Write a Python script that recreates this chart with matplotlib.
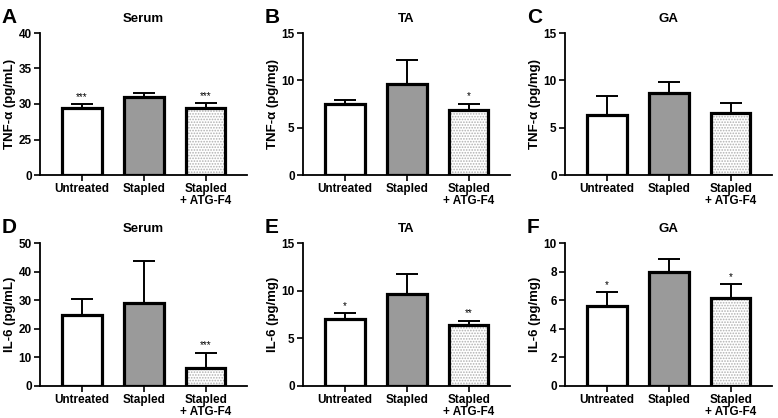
import matplotlib
matplotlib.use('Agg')
import matplotlib.pyplot as plt
import numpy as np

plt.rcParams.update({
    'font.family': ['Liberation Sans', 'DejaVu Sans'],
    'font.weight': 'bold',
    'axes.linewidth': 1.3,
    'hatch.linewidth': 0.8,
})

groups = ['Untreated', 'Stapled', 'Stapled\n+ ATG-F4']

# panel A: TNF-a serum
tnf_serum = [29.5, 30.95, 29.45]
tnf_serum_err = [0.5, 0.55, 0.65]
tnf_serum_sig = ['***', '', '***']
# panel B: TNF-a TA
tnf_ta = [7.45, 9.65, 6.9]
tnf_ta_err = [0.45, 2.45, 0.65]
tnf_ta_sig = ['', '', '*']
# panel C: TNF-a GA
tnf_ga = [6.3, 8.65, 6.6]
tnf_ga_err = [2.0, 1.2, 1.05]
tnf_ga_sig = ['', '', '']
# panel D: IL-6 serum
il6_serum = [24.7, 28.9, 6.3]
il6_serum_err = [5.7, 14.9, 5.4]
il6_serum_sig = ['', '', '***']
# panel E: IL-6 TA
il6_ta = [7.05, 9.6, 6.45]
il6_ta_err = [0.6, 2.1, 0.42]
il6_ta_sig = ['*', '', '**']
# panel F: IL-6 GA
il6_ga = [5.57, 7.95, 6.12]
il6_ga_err = [1.0, 0.92, 1.0]
il6_ga_sig = ['*', '', '*']

panels = [
    ('A', 'Serum', 'TNF-α (pg/mL)', tnf_serum, tnf_serum_err, tnf_serum_sig, [0, 25, 30, 35, 40]),
    ('B', 'TA', 'TNF-α (pg/mg)', tnf_ta, tnf_ta_err, tnf_ta_sig, [0, 5, 10, 15]),
    ('C', 'GA', 'TNF-α (pg/mg)', tnf_ga, tnf_ga_err, tnf_ga_sig, [0, 5, 10, 15]),
    ('D', 'Serum', 'IL-6 (pg/mL)', il6_serum, il6_serum_err, il6_serum_sig, [0, 10, 20, 30, 40, 50]),
    ('E', 'TA', 'IL-6 (pg/mg)', il6_ta, il6_ta_err, il6_ta_sig, [0, 5, 10, 15]),
    ('F', 'GA', 'IL-6 (pg/mg)', il6_ga, il6_ga_err, il6_ga_sig, [0, 2, 4, 6, 8, 10]),
]

W, H = 778, 418
fig = plt.figure(figsize=(W / 100, H / 100), dpi=100)
lefts = [40, 303, 565]
rows = [(33, 175), (243, 386)]
width_px = 207

for i, (letter, title, ylabel, vals, errs, sig, ticks) in enumerate(panels):
    r, c = divmod(i, 3)
    top, bot = rows[r]
    ax = fig.add_axes([lefts[c] / W, 1 - bot / H, width_px / W, (bot - top) / H])
    x = np.arange(3)
    vals = np.array(vals)
    errs = np.array(errs)

    # broken axis for panel A: "0" sits where 20 would be
    if letter == 'A':
        base = 20
        tick_pos = [20, 25, 30, 35, 40]
    else:
        base = 0
        tick_pos = ticks

    heights = vals - base
    ax.bar(x, heights, 0.64, bottom=base, color=['white', '#9a9a9a', 'white'],
           edgecolor='none', zorder=2)
    ax.bar(x[2], heights[2], 0.64, bottom=base, color='white', hatch='......',
           edgecolor='#b0b0b0', linewidth=0, zorder=2)
    ax.bar(x, heights, 0.64, bottom=base, fill=False, edgecolor='black',
           linewidth=2.3, zorder=3)
    ax.errorbar(x, vals, yerr=[np.zeros(3), errs], fmt='none', ecolor='black',
                elinewidth=1.4, capsize=8, capthick=1.4, zorder=1)

    ymax = tick_pos[-1]
    for xi, v, e, s in zip(x, vals, errs, sig):
        if s:
            ax.text(xi, v + e + (ymax - base) * 0.015, s, ha='center', va='bottom',
                    fontsize=7, fontweight='normal')

    ax.set_ylim(base, ymax)
    ax.set_yticks(tick_pos)
    ax.set_yticklabels([str(t) for t in ticks], fontsize=8.5, fontweight='bold')
    ax.set_xlim(-0.68, 2.67)
    ax.set_xticks(x)
    ax.set_xticklabels(groups, fontsize=8.5, fontweight='bold', linespacing=1.0)
    ax.tick_params(axis='both', direction='out', length=4, width=1.2, pad=2)
    ax.spines['top'].set_visible(False)
    ax.spines['right'].set_visible(False)
    ax.set_ylabel(ylabel, fontsize=9.5, fontweight='bold', labelpad=2)
    ax.set_title(title, fontsize=9.5, fontweight='bold', pad=8)
    ax.text(-0.185, 1.04, letter, transform=ax.transAxes, fontsize=15,
            fontweight='bold', ha='left', va='bottom')

fig.savefig('out.png', dpi=100)
